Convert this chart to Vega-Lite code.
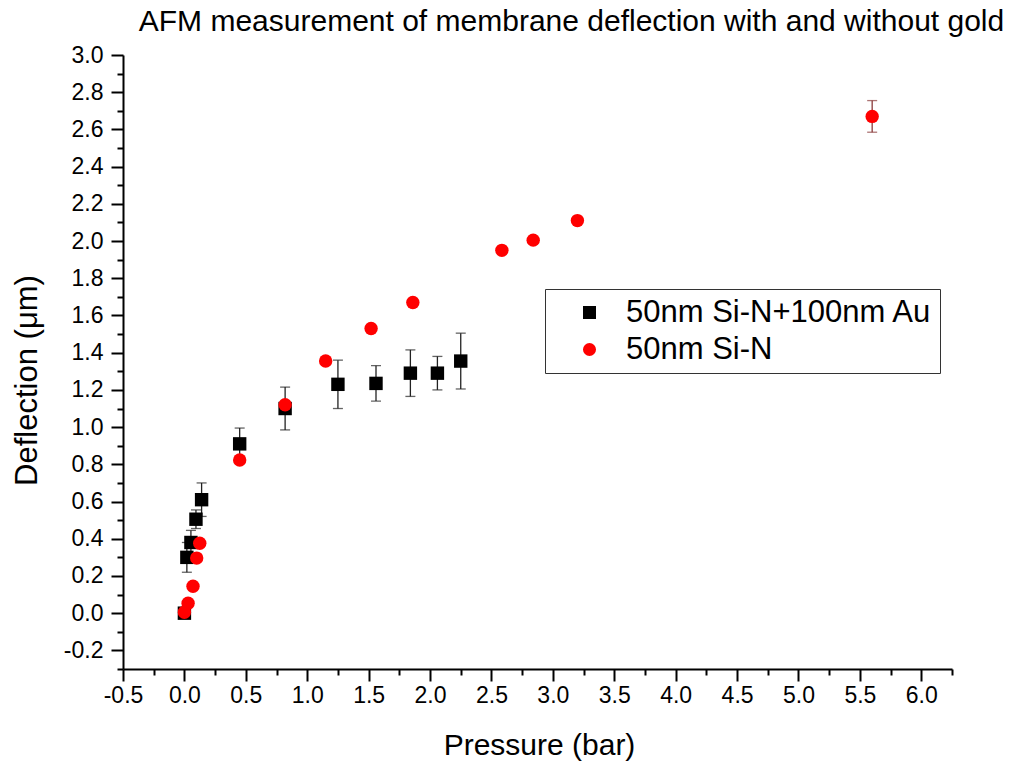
{
  "$schema": "https://vega.github.io/schema/vega-lite/v6.json",
  "width": 829,
  "height": 614,
  "autosize": {"type": "none"},
  "padding": {"left": 123, "top": 55, "right": 72, "bottom": 95},
  "background": "white",
  "title": {
    "text": "AFM measurement of membrane deflection with and without gold",
    "fontSize": 30,
    "font": "Liberation Sans",
    "fontWeight": "normal",
    "color": "black",
    "anchor": "middle",
    "frame": "group",
    "baseline": "alphabetic",
    "dx": 34,
    "offset": -17
  },
  "data": {
    "values": [
      {"series": "50nm Si-N+100nm Au", "pressure": 0.0, "deflection": 0.0, "err": 0},
      {"series": "50nm Si-N+100nm Au", "pressure": 0.02, "deflection": 0.30, "err": 0.08},
      {"series": "50nm Si-N+100nm Au", "pressure": 0.053, "deflection": 0.38, "err": 0.065},
      {"series": "50nm Si-N+100nm Au", "pressure": 0.094, "deflection": 0.505, "err": 0.05},
      {"series": "50nm Si-N+100nm Au", "pressure": 0.14, "deflection": 0.61, "err": 0.09},
      {"series": "50nm Si-N+100nm Au", "pressure": 0.45, "deflection": 0.91, "err": 0.085},
      {"series": "50nm Si-N+100nm Au", "pressure": 0.82, "deflection": 1.10, "err": 0.115},
      {"series": "50nm Si-N+100nm Au", "pressure": 1.25, "deflection": 1.23, "err": 0.13},
      {"series": "50nm Si-N+100nm Au", "pressure": 1.56, "deflection": 1.235, "err": 0.095},
      {"series": "50nm Si-N+100nm Au", "pressure": 1.84, "deflection": 1.29, "err": 0.125},
      {"series": "50nm Si-N+100nm Au", "pressure": 2.06, "deflection": 1.29, "err": 0.09},
      {"series": "50nm Si-N+100nm Au", "pressure": 2.25, "deflection": 1.355, "err": 0.15},
      {"series": "\u00a050nm Si-N", "pressure": 0.0, "deflection": 0.005, "err": 0},
      {"series": "\u00a050nm Si-N", "pressure": 0.03, "deflection": 0.054, "err": 0},
      {"series": "\u00a050nm Si-N", "pressure": 0.07, "deflection": 0.145, "err": 0},
      {"series": "\u00a050nm Si-N", "pressure": 0.10, "deflection": 0.296, "err": 0},
      {"series": "\u00a050nm Si-N", "pressure": 0.125, "deflection": 0.376, "err": 0},
      {"series": "\u00a050nm Si-N", "pressure": 0.45, "deflection": 0.823, "err": 0},
      {"series": "\u00a050nm Si-N", "pressure": 0.82, "deflection": 1.12, "err": 0},
      {"series": "\u00a050nm Si-N", "pressure": 1.15, "deflection": 1.355, "err": 0},
      {"series": "\u00a050nm Si-N", "pressure": 1.52, "deflection": 1.53, "err": 0},
      {"series": "\u00a050nm Si-N", "pressure": 1.86, "deflection": 1.67, "err": 0},
      {"series": "\u00a050nm Si-N", "pressure": 2.585, "deflection": 1.95, "err": 0},
      {"series": "\u00a050nm Si-N", "pressure": 2.84, "deflection": 2.005, "err": 0},
      {"series": "\u00a050nm Si-N", "pressure": 3.20, "deflection": 2.11, "err": 0},
      {"series": "\u00a050nm Si-N", "pressure": 5.60, "deflection": 2.67, "err": 0.085}
    ]
  },
  "layer": [
    {
      "transform": [{"filter": "datum.series == '50nm Si-N+100nm Au' && datum.err > 0"}],
      "mark": {"type": "errorbar", "color": "#222222", "thickness": 1.3, "ticks": {"size": 10, "thickness": 1.3}},
      "encoding": {
        "x": {
          "field": "pressure", "type": "quantitative",
          "scale": {"domain": [-0.5, 6.25], "nice": false, "zero": false},
          "axis": {
            "orient": "bottom", "title": null, "labels": false, "domain": false, "grid": false,
            "tickSize": 6, "tickWidth": 2, "tickColor": "black",
            "values": [-0.25, 0.25, 0.75, 1.25, 1.75, 2.25, 2.75, 3.25, 3.75, 4.25, 4.75, 5.25, 5.75, 6.25]
          }
        },
        "y": {
          "field": "deflection", "type": "quantitative",
          "scale": {"domain": [-0.3, 3.0], "nice": false, "zero": false},
          "axis": {
            "orient": "left", "title": null, "labels": false, "domain": false, "grid": false,
            "tickSize": 6, "tickWidth": 2, "tickColor": "black",
            "values": [-0.3, -0.1, 0.1, 0.3, 0.5, 0.7, 0.9, 1.1, 1.3, 1.5, 1.7, 1.9, 2.1, 2.3, 2.5, 2.7, 2.9]
          }
        },
        "yError": {"field": "err"}
      }
    },
    {
      "transform": [{"filter": "datum.series != '50nm Si-N+100nm Au' && datum.err > 0"}],
      "mark": {"type": "errorbar", "color": "#8a3b3b", "thickness": 1.3, "ticks": {"size": 10, "thickness": 1.3}},
      "encoding": {
        "x": {"field": "pressure", "type": "quantitative", "axis": null},
        "y": {"field": "deflection", "type": "quantitative", "axis": null},
        "yError": {"field": "err"}
      }
    },
    {
      "mark": {"type": "point", "filled": true, "size": 180, "opacity": 1},
      "encoding": {
        "x": {
          "field": "pressure", "type": "quantitative",
          "axis": {
            "orient": "bottom", "grid": false,
            "values": [-0.5, 0, 0.5, 1, 1.5, 2, 2.5, 3, 3.5, 4, 4.5, 5, 5.5, 6],
            "labelExpr": "datum.value < 0 ? '-' + format(-datum.value, '.1f') : format(datum.value, '.1f')",
            "labelFontSize": 23, "labelColor": "black", "labelPadding": 3,
            "labelFlush": false, "labelOverlap": false,
            "tickSize": 12, "tickWidth": 2, "tickColor": "black",
            "domainColor": "black", "domainWidth": 2,
            "title": "Pressure (bar)", "titleFontSize": 30, "titleFontWeight": "normal", "titleColor": "black",
            "titleX": 416, "titleY": 76, "titleBaseline": "middle", "titleAlign": "center"
          }
        },
        "y": {
          "field": "deflection", "type": "quantitative",
          "axis": {
            "orient": "left", "grid": false,
            "values": [-0.2, 0, 0.2, 0.4, 0.6, 0.8, 1.0, 1.2, 1.4, 1.6, 1.8, 2.0, 2.2, 2.4, 2.6, 2.8, 3.0],
            "labelExpr": "datum.value < 0 ? '-' + format(-datum.value, '.1f') : format(datum.value, '.1f')",
            "labelFontSize": 23, "labelColor": "black", "labelPadding": 8,
            "labelFlush": false, "labelOverlap": false,
            "tickSize": 12, "tickWidth": 2, "tickColor": "black",
            "domainColor": "black", "domainWidth": 2,
            "title": "Deflection (μm)", "titleFontSize": 31, "titleFontWeight": "normal", "titleColor": "black",
            "titleX": -96, "titleY": 325, "titleBaseline": "middle", "titleAlign": "center", "titleAngle": -90
          }
        },
        "color": {
          "field": "series", "type": "nominal",
          "scale": {"domain": ["50nm Si-N+100nm Au", "\u00a050nm Si-N"], "range": ["#000000", "#ff0000"]},
          "legend": {
            "title": null, "orient": "none", "legendX": 422, "legendY": 234,
            "strokeColor": "#333333", "padding": 8,
            "labelFontSize": 31, "labelColor": "black", "labelLimit": 600,
            "symbolSize": 170, "symbolOffset": 21, "labelOffset": 21, "rowPadding": 5
          }
        },
        "shape": {
          "field": "series", "type": "nominal",
          "scale": {"domain": ["50nm Si-N+100nm Au", "\u00a050nm Si-N"], "range": ["square", "circle"]},
          "legend": {
            "title": null, "orient": "none", "legendX": 422, "legendY": 234,
            "strokeColor": "#333333", "padding": 8,
            "labelFontSize": 31, "labelColor": "black", "labelLimit": 600,
            "symbolSize": 170, "symbolOffset": 21, "labelOffset": 21, "rowPadding": 5
          }
        }
      }
    }
  ],
  "resolve": {"axis": {"x": "independent", "y": "independent"}},
  "config": {
    "view": {"stroke": null},
    "font": "Liberation Sans"
  }
}
